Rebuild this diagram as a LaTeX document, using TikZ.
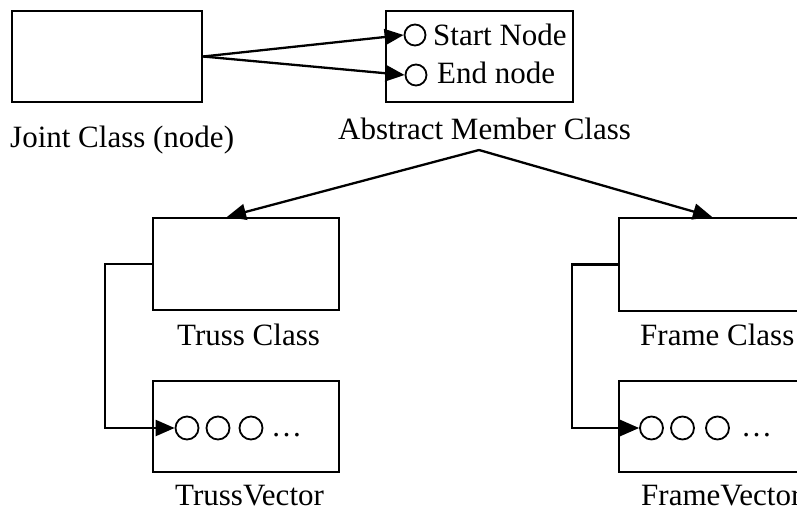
\documentclass[tikz,border=0pt]{standalone}
\usepackage{fontspec}
\setmainfont{Liberation Serif}
\usetikzlibrary{arrows.meta}

\tikzset{
  classbox/.style={draw, line width=2.3pt, rectangle, inner sep=0pt, minimum width=186pt, minimum height=92pt},
  slot/.style={draw, line width=1.8pt, circle, inner sep=0pt, minimum size=23pt},
  caption/.style={anchor=base west, inner sep=0pt, font=\fontsize{31}{37}\selectfont},
  link/.style={line width=2.3pt, -{Triangle[length=19pt,width=16pt]}},
}

\begin{document}
\begin{tikzpicture}[x=1pt, y=-1pt]
\useasboundingbox (0,0) rectangle (797,512);
\clip (0,0) rectangle (797,512);

% class boxes
\node[classbox, minimum width=190pt, minimum height=91pt] (joint) at (107,56.5) {};
\node[classbox, minimum width=187pt, minimum height=91pt] (member) at (479.5,56.5) {};
\node[classbox] (truss) at (246,264) {};
\node[classbox, minimum height=91pt] (tvec) at (246,426.5) {};
\node[classbox, minimum height=93pt] (frame) at (712,264.5) {};
\node[classbox, minimum height=91pt] (fvec) at (712,426.5) {};

% captions
\node[caption] (jointlbl) at (10,147) {Joint Class (node)};
\node[caption] (memberlbl) at (338,139) {Abstract Member Class};
\node[caption] (trusslbl) at (177,345) {Truss Class};
\node[caption] (tveclbl) at (175,505) {TrussVector};
\node[caption] (framelbl) at (640,345) {Frame Class};
\node[caption] (fveclbl) at (641,505) {FrameVector};

% member end nodes
\node[slot, minimum size=21pt] (snode) at (415,35) {};
\node[caption] (snodelbl) at (433,45) {Start Node};
\node[slot, minimum size=21pt] (enode) at (416,75) {};
\node[caption] (enodelbl) at (437,83) {End node};

% vector slots
\node[slot] (t1) at (187,428) {};
\node[slot] (t2) at (218,428) {};
\node[slot] (t3) at (251,428) {};
\node[caption] (tdots) at (271,436) {\dots};
\node[slot] (f1) at (651.5,428) {};
\node[slot] (f2) at (682.5,428) {};
\node[slot] (f3) at (717.5,428) {};
\node[caption] (fdots) at (741,436) {\dots};

% joint references
\draw[link] (joint.east) -- (snode.west);
\draw[link] (joint.east) -- (enode.west);

% inheritance
\coordinate (apex) at (479,150);
\draw[link] (apex) -- ([xshift=-19pt]truss.north);
\draw[link] (apex) -- (frame.north);

% containment
\draw[link] (truss.west) -- ++(-47,0) |- (t1.west);
\draw[link] (frame.west) -- ++(-46,0) |- (f1.west);
\end{tikzpicture}
\end{document}
